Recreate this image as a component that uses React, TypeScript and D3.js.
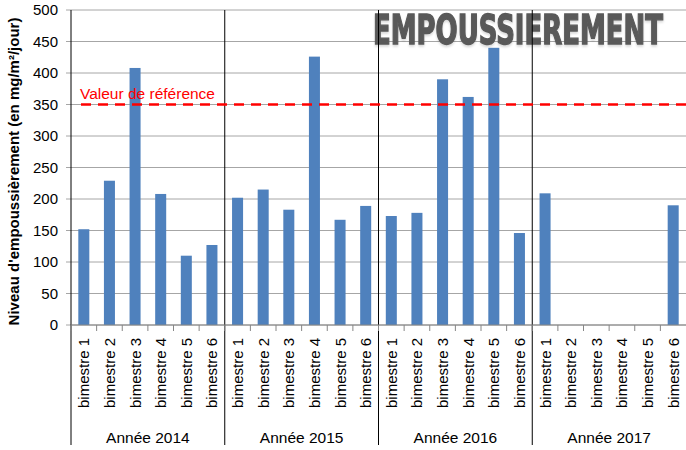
import React from "react";
import * as d3 from "d3";

// data
const years = ["Année 2014", "Année 2015", "Année 2016", "Année 2017"];
const bimestres = ["bimestre 1", "bimestre 2", "bimestre 3", "bimestre 4", "bimestre 5", "bimestre 6"];
const values2014 = [152, 229, 408, 208, 110, 127];
const values2015 = [202, 215, 183, 426, 167, 189];
const values2016 = [173, 178, 390, 362, 440, 146];
const values2017 = [209, null, null, null, null, 190];
const yTicks = [0, 50, 100, 150, 200, 250, 300, 350, 400, 450, 500];
const referenceValue = 350;

const W = 686;
const H = 450;
const left = 71;
const right = 686;
const top = 10;
const bottom = 325;
const font = "Arial, 'Liberation Sans', sans-serif";

export default function App() {
  const series = [values2014, values2015, values2016, values2017];
  const cats = years.flatMap((yr, i) => bimestres.map((b, j) => ({ key: `${yr}-${b}`, year: yr, label: b, value: series[i][j] })));

  const x = d3.scaleBand<string>().domain(cats.map(c => c.key)).range([left, right]).paddingInner(0.57).paddingOuter(0.285);
  const band = (right - left) / cats.length;
  const y = d3.scaleLinear().domain([0, 500]).range([bottom, top]);
  const groupW = band * bimestres.length;

  return (
    <svg width={W} height={H} style={{ position: "absolute", left: 0, top: 0, background: "#fff" }} fontFamily={font}>
      {/* gridlines */}
      {yTicks.map(t => (
        <line key={t} x1={left - 5} x2={right} y1={y(t)} y2={y(t)} stroke="#a6a6a6" strokeWidth={1} />
      ))}
      {/* y tick labels */}
      {yTicks.map(t => (
        <text key={"l" + t} x={left - 13} y={y(t)} dy="0.36em" textAnchor="end" fontSize={15} fill="#000">{t}</text>
      ))}
      {/* title */}
      <text x={373} y={44} fontSize={40} fontWeight="bold" fill="#595959" stroke="#595959" strokeWidth={1.4}
        textLength={290} lengthAdjust="spacingAndGlyphs"
        fontFamily="'Liberation Sans Narrow', 'DejaVu Sans Condensed', Arial, sans-serif"
        style={{ filter: "drop-shadow(0px 2px 1px rgba(0,0,0,0.15))" }}>EMPOUSSIEREMENT</text>
      {/* bars */}
      {cats.filter(c => c.value != null).map(c => (
        <rect key={c.key} x={x(c.key)} y={y(c.value as number)} width={x.bandwidth()} height={bottom - y(c.value as number)} fill="#4f81bd" />
      ))}
      {/* year separators */}
      {years.map((yr, i) => (
        <line key={"s" + yr} x1={left + i * groupW} x2={left + i * groupW} y1={top} y2={445} stroke="#000" strokeWidth={1} />
      ))}
      {/* x axis */}
      <line x1={left} x2={right} y1={bottom} y2={bottom} stroke="#868686" strokeWidth={1} />
      {cats.map((c, i) => (
        <line key={"t" + c.key} x1={left + i * band} x2={left + i * band} y1={bottom} y2={bottom + 6} stroke="#868686" />
      ))}
      {/* reference line */}
      <line x1={81} x2={right} y1={y(referenceValue)} y2={y(referenceValue)} stroke="#ff0000" strokeWidth={2.5} strokeDasharray="10 7" />
      <text x={80} y={y(referenceValue) - 6} fontSize={15.5} fill="#ff0000">Valeur de référence</text>
      {/* category labels */}
      {cats.map(c => {
        const cx = (x(c.key) as number) + x.bandwidth() / 2;
        return (
          <text key={"c" + c.key} transform={`translate(${cx + 5.5},${bottom + 13}) rotate(-90)`} textAnchor="end" fontSize={15} fill="#000">{c.label}</text>
        );
      })}
      {years.map((yr, i) => (
        <text key={"y" + yr} x={left + i * groupW + groupW / 2} y={443} textAnchor="middle" fontSize={15.5} fill="#000">{yr}</text>
      ))}
      {/* y axis title */}
      <text transform={`translate(19,${(top + bottom) / 2 + 4}) rotate(-90)`} textAnchor="middle" fontSize={15} fontWeight="bold" fill="#000">
        Niveau d'empoussièrement (en mg/m²/jour)
      </text>
    </svg>
  );
}
